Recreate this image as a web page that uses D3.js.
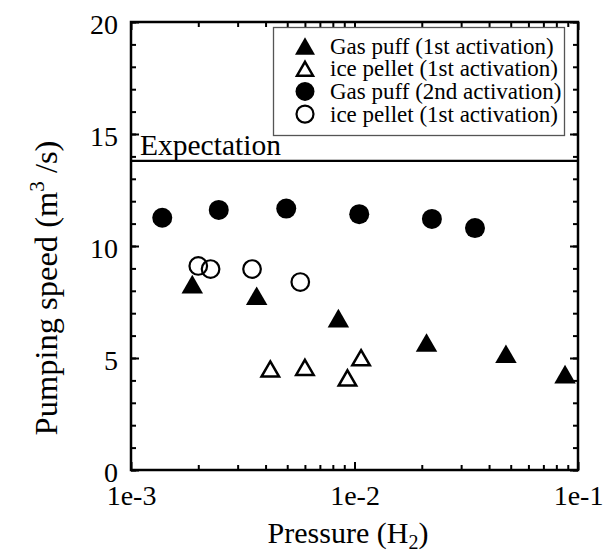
<!DOCTYPE html>
<html><head><meta charset="utf-8">
<script src="https://cdn.jsdelivr.net/npm/d3@7"></script>
<style>
body{margin:0;background:#fff}
text{font-family:"Liberation Serif","Times New Roman",serif;fill:#000}
</style>
</head><body>
<svg id="c" width="612" height="553"></svg>
<script>
// ---------- data ----------
const gasPuff1X = [1.88e-3, 3.65e-3, 8.47e-3, 2.10e-2, 4.76e-2, 8.75e-2];
const gasPuff1Y = [8.30, 7.78, 6.78, 5.69, 5.19, 4.28];
const icePellet1X = [4.2e-3, 6.0e-3, 9.3e-3, 1.07e-2];
const icePellet1Y = [4.51, 4.58, 4.11, 5.01];
const gasPuff2X = [1.38e-3, 2.47e-3, 4.95e-3, 1.05e-2, 2.22e-2, 3.46e-2];
const gasPuff2Y = [11.26, 11.61, 11.67, 11.42, 11.21, 10.80];
const icePellet2X = [2.0e-3, 2.27e-3, 3.48e-3, 5.72e-3];
const icePellet2Y = [9.11, 8.97, 8.97, 8.39];
const expectation = 13.8;
const expectationLabel = "Expectation";
const xMajorTicks = [1e-3, 1e-2, 1e-1];
const xTickLabels = ["1e-3", "1e-2", "1e-1"];
const yMajorTicks = [0, 5, 10, 15, 20];
const yMinorTicks = d3.range(0, 21, 1);
const legendLabels = ["Gas puff (1st activation)", "ice pellet (1st activation)",
                      "Gas puff (2nd activation)", "ice pellet (1st activation)"];

// ---------- layout ----------
const svg = d3.select("#c");
const L = 131, R = 578, T = 22, B = 470;
const x = d3.scaleLog().domain([1e-3, 1e-1]).range([L, R]);
const y = d3.scaleLinear().domain([0, 20]).range([B, T]);
const xMinorTicks = x.ticks().filter(v => !xMajorTicks.some(t => Math.abs(t - v) / t < 1e-6));

function styleAxis(g) {
  g.select(".domain").remove();
  g.selectAll(".tick line").attr("stroke", "#000").attr("stroke-width", 2);
}
// bottom
svg.append("g").attr("transform", `translate(0,${B})`)
  .call(d3.axisBottom(x).tickValues(xMajorTicks).tickSize(-8).tickPadding(15)
        .tickFormat((d, i) => xTickLabels[i]))
  .call(styleAxis)
  .call(g => g.selectAll("text").attr("font-size", 28).attr("font-family", "Liberation Serif"));
svg.append("g").attr("transform", `translate(0,${B})`)
  .call(d3.axisBottom(x).tickValues(xMinorTicks).tickSize(-5).tickFormat(""))
  .call(styleAxis);
// top
svg.append("g").attr("transform", `translate(0,${T})`)
  .call(d3.axisTop(x).tickValues(xMajorTicks).tickSize(-8).tickFormat(""))
  .call(styleAxis);
svg.append("g").attr("transform", `translate(0,${T})`)
  .call(d3.axisTop(x).tickValues(xMinorTicks).tickSize(-5).tickFormat(""))
  .call(styleAxis);
// left
svg.append("g").attr("transform", `translate(${L},0)`)
  .call(d3.axisLeft(y).tickValues(yMajorTicks).tickSize(-8).tickPadding(13))
  .call(styleAxis)
  .call(g => g.selectAll("text").attr("font-size", 28).attr("font-family", "Liberation Serif").attr("dy", "0.4em"));
svg.append("g").attr("transform", `translate(${L},0)`)
  .call(d3.axisLeft(y).tickValues(yMinorTicks).tickSize(-5).tickFormat(""))
  .call(styleAxis);
// right
svg.append("g").attr("transform", `translate(${R},0)`)
  .call(d3.axisRight(y).tickValues(yMajorTicks).tickSize(-8).tickFormat(""))
  .call(styleAxis);
svg.append("g").attr("transform", `translate(${R},0)`)
  .call(d3.axisRight(y).tickValues(yMinorTicks).tickSize(-5).tickFormat(""))
  .call(styleAxis);

// frame
svg.append("rect").attr("x", L).attr("y", T).attr("width", R - L).attr("height", B - T)
  .attr("fill", "none").attr("stroke", "#000").attr("stroke-width", 2.5);

// expectation line
svg.append("line").attr("x1", L).attr("x2", R).attr("y1", y(expectation)).attr("y2", y(expectation))
  .attr("stroke", "#000").attr("stroke-width", 2.2);
svg.append("text").attr("x", L + 9).attr("y", y(expectation) - 6)
  .attr("font-size", 29.5).text(expectationLabel);

// markers
function tri(s) {
  const h = s * Math.sqrt(3) / 2;
  return `M0,${-h / 2}L${s / 2},${h / 2}L${-s / 2},${h / 2}Z`;
}
const zip = (xs, ys) => xs.map((v, i) => [v, ys[i]]);
const plot = svg.append("g");
plot.selectAll(".gp1").data(zip(gasPuff1X, gasPuff1Y)).join("path")
  .attr("d", tri(21.5)).attr("fill", "#000")
  .attr("transform", d => `translate(${x(d[0])},${y(d[1])})`);
plot.selectAll(".ip1").data(zip(icePellet1X, icePellet1Y)).join("path")
  .attr("d", tri(17.5)).attr("fill", "#fff").attr("stroke", "#000").attr("stroke-width", 2.5)
  .attr("transform", d => `translate(${x(d[0])},${y(d[1])})`);
plot.selectAll(".gp2").data(zip(gasPuff2X, gasPuff2Y)).join("circle")
  .attr("r", 10).attr("fill", "#000")
  .attr("cx", d => x(d[0])).attr("cy", d => y(d[1]));
plot.selectAll(".ip2").data(zip(icePellet2X, icePellet2Y)).join("circle")
  .attr("r", 8.8).attr("fill", "none").attr("stroke", "#000").attr("stroke-width", 2.2)
  .attr("cx", d => x(d[0])).attr("cy", d => y(d[1]));

// legend
const lg = svg.append("g");
lg.append("rect").attr("x", 273.5).attr("y", 27.5).attr("width", 291).attr("height", 108)
  .attr("fill", "#fff").attr("stroke", "#555").attr("stroke-width", 1.3);
const rowY = i => 46 + i * 22.7;
const lx = 305;
lg.append("path").attr("d", tri(20)).attr("fill", "#000").attr("transform", `translate(${lx},${rowY(0)})`);
lg.append("path").attr("d", tri(16)).attr("fill", "#fff").attr("stroke", "#000").attr("stroke-width", 2.5)
  .attr("transform", `translate(${lx},${rowY(1)})`);
lg.append("circle").attr("cx", lx).attr("cy", rowY(2)).attr("r", 9.5).attr("fill", "#000");
lg.append("circle").attr("cx", lx).attr("cy", rowY(3)).attr("r", 8.5).attr("fill", "none")
  .attr("stroke", "#000").attr("stroke-width", 2.2);
lg.selectAll(".lt").data(legendLabels).join("text")
  .attr("x", 330).attr("y", (d, i) => rowY(i) + 7.5).attr("font-size", 23).text(d => d);

// axis titles
const xt = svg.append("text").attr("x", 348).attr("y", 543).attr("text-anchor", "middle").attr("font-size", 30);
xt.append("tspan").text("Pressure (H");
xt.append("tspan").attr("font-size", 20).attr("dy", 6).text("2");
xt.append("tspan").attr("dy", -6).text(")");

const yt = svg.append("text").attr("transform", "translate(57,288) rotate(-90)")
  .attr("text-anchor", "middle").attr("font-size", 32.5);
yt.append("tspan").text("Pumping speed (m");
yt.append("tspan").attr("font-size", 21).attr("dy", -13).text("3");
yt.append("tspan").attr("dy", 13).text(" /s)");
</script>
</body></html>
